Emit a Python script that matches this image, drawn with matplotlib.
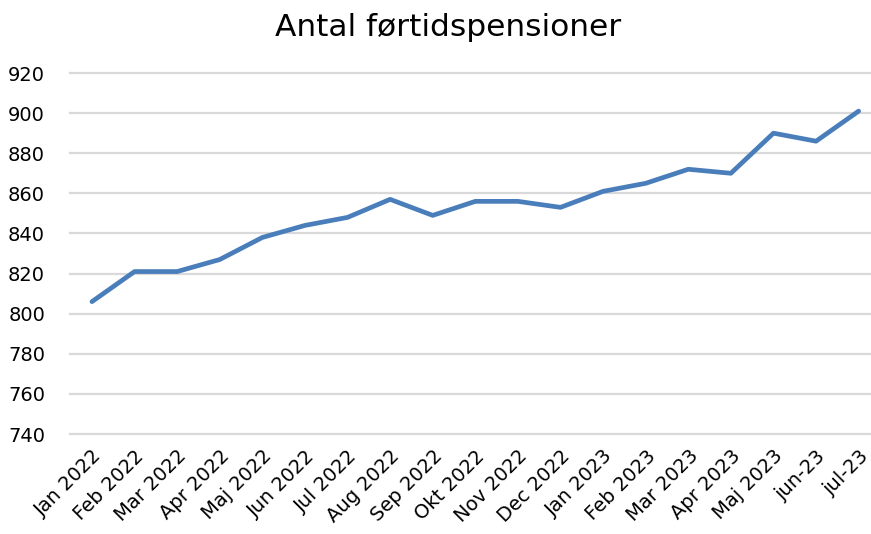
import matplotlib.pyplot as plt

# Data
months = ["Jan 2022", "Feb 2022", "Mar 2022", "Apr 2022", "Maj 2022", "Jun 2022",
          "Jul 2022", "Aug 2022", "Sep 2022", "Okt 2022", "Nov 2022", "Dec 2022",
          "Jan 2023", "Feb 2023", "Mar 2023", "Apr 2023", "Maj 2023", "jun-23", "jul-23"]
values = [806, 821, 821, 827, 838, 844, 848, 857, 849, 856, 856, 853,
          861, 865, 872, 870, 890, 886, 901]
yticks = [740, 760, 780, 800, 820, 840, 860, 880, 900, 920]

plt.rcParams['font.family'] = ['DejaVu Sans']

fig = plt.figure(figsize=(8.71, 5.34), dpi=100)
ax = fig.add_axes([70 / 871, 1 - 434 / 534, 801 / 871, (434 - 73) / 534])

x = list(range(len(months)))
ax.plot(x, values, color='#4a7ebb', linewidth=3.4, solid_capstyle='round', zorder=3)

ax.set_ylim(740, 920)
ax.set_xlim(-0.516, 18.29)
ax.set_yticks(yticks)
ax.set_yticklabels([str(v) for v in yticks], fontsize=14)
ax.set_xticks(x)
ax.set_xticklabels(months, fontsize=14, rotation=45, ha='right', rotation_mode='anchor')
ax.tick_params(axis='both', length=0)
ax.tick_params(axis='y', pad=18)
ax.tick_params(axis='x', pad=9)
ax.grid(axis='y', color='#d9d9d9', linewidth=1.6)
for gl in ax.get_ygridlines():
    gl.set_clip_on(False)
ax.set_axisbelow(True)
for s in ax.spines.values():
    s.set_visible(False)

fig.text(448 / 871, 1 - 27 / 534, "Antal førtidspensioner", fontsize=22.5,
         ha='center', va='center')

fig.savefig("out.png", dpi=100)
